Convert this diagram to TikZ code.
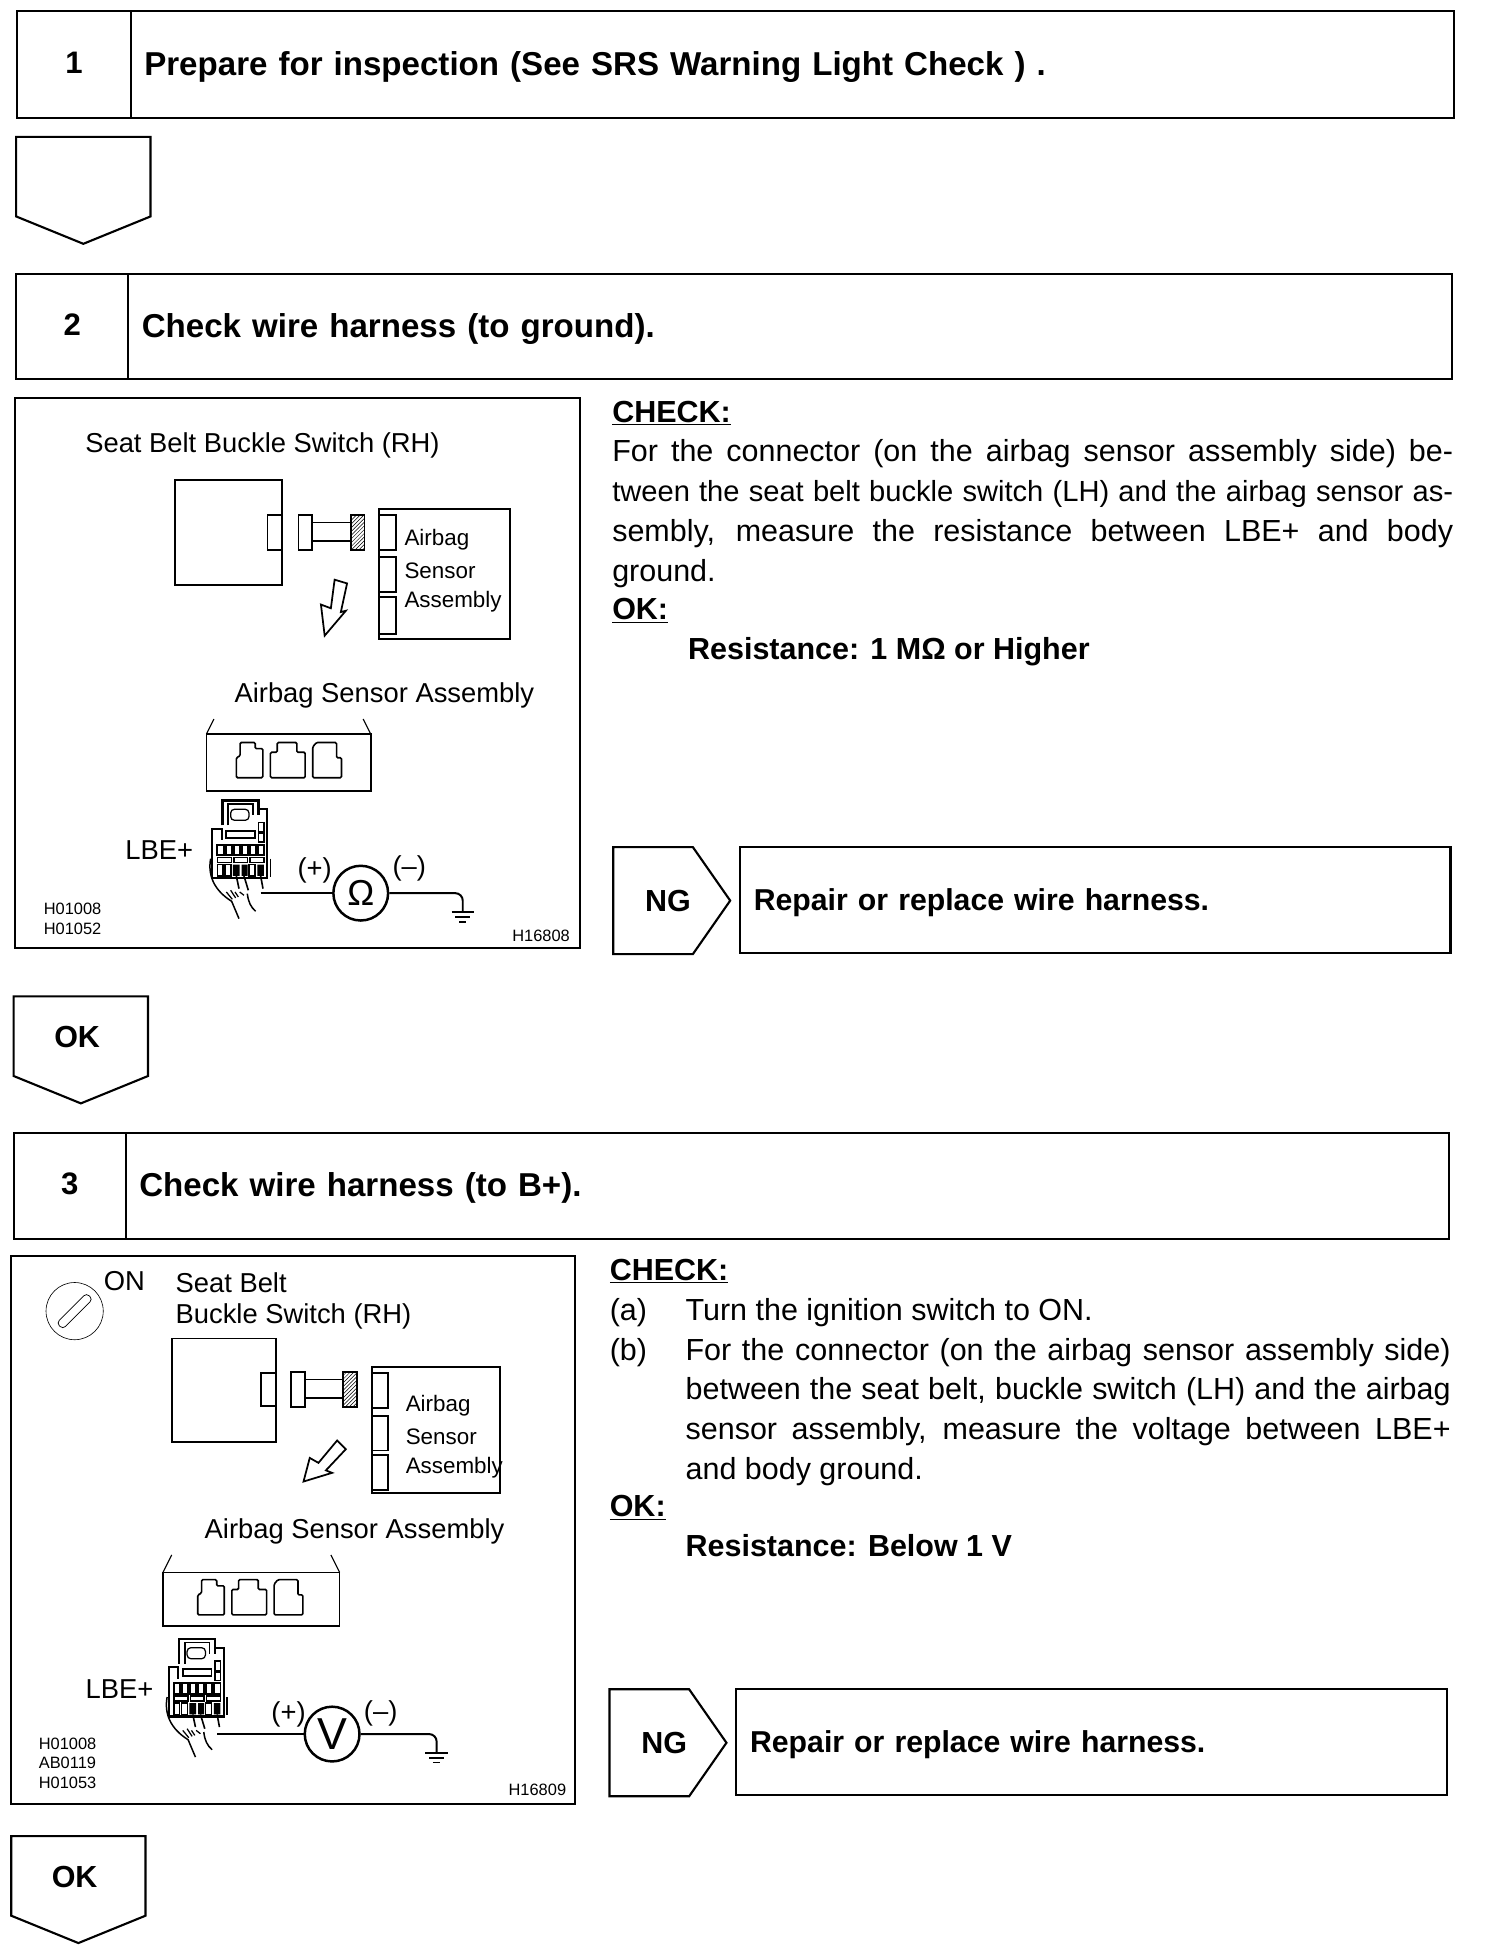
\documentclass[tikz,border=0pt]{standalone}
\usepackage{fontspec}
\setmainfont{Liberation Sans}
\usetikzlibrary{positioning, patterns}
\newcommand{\fline}[1]{\makebox[676pt][s]{#1}}
\newcommand{\gline}[1]{\makebox[615pt][s]{#1}}
\tikzset{
  numcell/.style={draw, line width=1.7pt, anchor=north west, outer sep=0pt, inner sep=0pt, minimum height=85pt, text height=18pt, text depth=4pt, font=\fontsize{25}{30}\bfseries\selectfont},
  titlecell/.style={numcell, align=left, inner xsep=11pt, text height=22pt, text depth=5pt, font=\fontsize{26.6}{30}\bfseries\selectfont},
  repaircell/.style={titlecell, font=\fontsize{24.3}{30}\bfseries\selectfont},
  bodytext/.style={anchor=north west, inner sep=0pt, align=left, font=\fontsize{24.5}{32}\selectfont},
  label/.style={inner sep=0pt, font=\fontsize{22}{25}\selectfont},
  small/.style={inner sep=0pt, font=\fontsize{18}{25}\selectfont},
  code/.style={inner sep=0pt, align=left, font=\fontsize{13.2}{15.5}\selectfont},
  panel/.style={draw, line width=1.7pt, anchor=north west, outer sep=0pt, inner sep=0pt},
  part/.style={draw, line width=1.5pt, anchor=north west, outer sep=0pt, inner sep=0pt},
  meter/.style={draw, circle, line width=2pt, minimum size=44pt, inner sep=0pt},
  wire/.style={line width=1.6pt},
  downflag/.pic={
    \draw[line width=1.7pt] (0,0) -- (108,0) -- (108,64) -- (54,86) -- (0,64) -- cycle;
    \node[font=\fontsize{24.5}{30}\bfseries\selectfont] (-text) at (51,33) {#1};
  },
  ngflag/.pic={
    \draw[line width=1.7pt] (0,0) -- (64,0) -- (94,43) -- (64,86) -- (0,86) -- cycle;
    \node[font=\fontsize{24.5}{30}\bfseries\selectfont] (-text) at (44,43) {NG};
  },
  harness/.pic={
    \draw[line width=1.5pt] (0,0) rectangle (11,28);
    \draw[line width=1.5pt] (11,6) -- (42,6) (11,21) -- (42,21);
    \draw[line width=1.5pt, pattern=north east lines] (42,0) rectangle (53,28);
  },
  sockets/.pic={
    \begin{scope}[x=.304pt, y=-.292pt, line width=1.3pt, rounded corners=1pt]
    \draw (0,100) -- (0,45) -- (10,40) -- (10,3) -- (50,3) -- (50,20) -- (70,20) -- (70,100) -- cycle;
    \draw (90,100) -- (90,30) -- (108,30) -- (108,3) -- (160,3) -- (160,30) -- (182,30) -- (182,100) -- cycle;
    \draw (202,100) -- (202,15) -- (212,3) -- (265,3) -- (265,45) -- (278,45) -- (278,100) -- cycle;
    \end{scope}
  },
  lbeplug/.pic={
    \begin{scope}[x=.268pt, y=-.268pt, shift={(-180,-60)}]
    \draw[line width=2pt] (220,140) -- (220,66) -- (328,66) -- (328,110);
    \draw[line width=1.4pt] (238,140) -- (238,76) -- (312,76) -- (312,110);
    \draw[line width=1pt, rounded corners=3pt] (245,125) -- (245,92) -- (300,92) -- (300,125) -- cycle;
    \draw[line width=1.8pt] (328,92) -- (355,92) -- (355,298) -- (190,298) -- (190,150) -- (218,150) -- (218,185);
    \draw[line width=1.5pt] (232,157) rectangle (318,178);
    \draw[line width=1.2pt] (328,132) rectangle (345,160) (328,165) rectangle (345,190);
    \draw[line width=1.5pt] (205,198) rectangle (224,230) (230,198) rectangle (248,230) (254,198) rectangle (272,230) (278,198) rectangle (296,230) (302,198) rectangle (320,230) (326,198) rectangle (345,230);
    \draw[line width=1.3pt] (205,237) rectangle (248,252) (255,237) rectangle (296,252) (303,237) rectangle (345,252);
    \draw[line width=1.3pt] (205,258) rectangle (222,292) (228,258) rectangle (246,292) (300,258) rectangle (318,292);
    \fill (252,258) rectangle (272,292) (278,258) rectangle (296,292) (325,258) rectangle (345,292);
    \draw[line width=1.3pt] (262,292) -- (270,330) (285,292) -- (298,335) (335,292) -- (342,330);
    \draw[line width=1.2pt] (185,240) .. controls (176,290) and (195,335) .. (248,368) -- (270,420);
    \draw[line width=1.2pt] (365,240) -- (365,295);
    \draw[line width=1.2pt] (295,345) .. controls (298,370) and (305,385) .. (320,398);
    \draw[line width=1pt] (232,340) -- (250,362) (245,335) -- (260,358) (258,340) -- (268,355) (272,340) -- (285,350);
    \coordinate (-out) at (335,332);
    \end{scope}
  },
  earth/.pic={
    \draw[line width=1.4pt] (-9,0) -- (9,0);
    \draw[line width=1.3pt] (-6,4) -- (6,4);
    \draw[line width=1.2pt] (-3,8) -- (3,8);
    \coordinate (-top) at (0,0);
  },
  x=1pt, y=-1pt
}
\begin{document}
\begin{tikzpicture}
\useasboundingbox (0,0) rectangle (1209,1567.6);

% step 1
\node[numcell, minimum width=91pt, minimum height=86pt] (numone) at (14,9) {1};
\node[titlecell, right=0pt of numone, text width=1042pt, minimum height=86pt] (titleone) {Prepare for inspection (See SRS Warning Light Check ) .};
\pic (flagone) at (13,110) {downflag={}};

% step 2
\node[numcell, minimum width=90pt] (numtwo) at (13,220) {2};
\node[titlecell, right=0pt of numtwo, text width=1042pt] (titletwo) {Check wire harness (to ground).};
\node[panel, minimum width=454pt, minimum height=442pt] (paneltwo) at (12,320) {};
\node[label] (switchtwo) at (211,358) {Seat Belt Buckle Switch (RH)};
\node[part, minimum width=86pt, minimum height=84pt] (bucktwo) at (141,386) {};
\node[part, minimum width=12pt, minimum height=28pt] (tabtwo) at (215,414) {};
\pic at (240,414) {harness};
\node[part, minimum width=105pt, minimum height=105pt] (asmtwo) at (305,409) {};
\node[part, minimum width=13pt, minimum height=28pt] (slotatwo) at (305,414) {};
\node[part, minimum width=13pt, minimum height=28pt] (slotbtwo) at (305,448) {};
\node[part, minimum width=13pt, minimum height=30pt] (slotctwo) at (305,480) {};
\node[small, anchor=west] (airbagtwo) at (325,434) {Airbag};
\node[small, anchor=west] (sensortwo) at (325,459) {Sensor};
\node[small, anchor=west] (assytwo) at (325,484) {Assembly};
\draw[line width=1.4pt] (261,511) -- (258,486) -- (266,489) -- (269,466) -- (279,469) -- (274,492) -- (278,491) -- cycle;
\node[label] (sensorlabeltwo) at (309,559) {Airbag Sensor Assembly};
\node[part, line width=1.3pt, minimum width=132pt, minimum height=46pt] (blocktwo) at (166,590) {};
\draw[line width=.9pt] (blocktwo.north west) -- (172,578) (blocktwo.north east) -- (292,578);
\pic at (190,596) {sockets};
\pic (plugtwo) at (168,642) {lbeplug};
\node[label] (lbetwo) at (128,683) {LBE+};
\node[meter, font=\fontsize{29}{32}\selectfont] (ohm) at (290,718) {Ω};
\pic (gndtwo) at (372,733) {earth};
\draw[wire] (plugtwo-out |- ohm) -- (ohm);
\draw[wire, rounded corners=6pt] (ohm) -- (ohm -| gndtwo-top) -- (gndtwo-top);
\node[label] (plustwo) at (253,700) {(+)};
\node[label] (minustwo) at (329,698) {(--)};
\node[code, anchor=north west] (codetwo) at (35,726) {H01008\\H01052};
\node[code] (figtwo) at (435,752) {H16808};

\node[bodytext] (checktwo) at (492,322) {\textbf{\underline{CHECK:}}\\
  \fline{For the connector (on the airbag sensor assembly side) be-}\\
  \fline{\fontsize{23.4}{32}\selectfont tween the seat belt buckle switch (LH) and the airbag sensor as-}\\
  \fline{sembly, measure the resistance between LBE+ and body}\\
  ground.\\[-1pt]
  \textbf{\underline{OK:}}\\
  \hspace*{61pt}\textbf{Resistance: 1 MΩ or Higher}};
\pic (ngtwo) at (493,681) {ngflag};
\node[repaircell, minimum width=571pt, text width=549pt] (repairtwo) at (595,681) {Repair or replace wire harness.};
\pic (flagtwo) at (11,801) {downflag={OK}};

% step 3
\node[numcell, minimum width=90pt] (numthree) at (11,911) {3};
\node[titlecell, right=0pt of numthree, text width=1042pt] (titlethree) {Check wire harness (to B+).};
\node[panel, minimum width=453pt, minimum height=440pt] (panelthree) at (9,1010) {};
\node[draw, circle, line width=.5pt, minimum size=46pt, inner sep=0pt] (keythree) at (60,1054) {};
\node[draw, rounded corners=3pt, line width=.6pt, rotate=45, minimum width=34pt, minimum height=7pt, inner sep=0pt] (slotthree) at (keythree) {};
\node[label] (onthree) at (100,1030) {ON};
\node[label, anchor=north west, align=left] (switchthree) at (141,1023) {Seat Belt\\Buckle Switch (RH)};
\node[part, minimum width=84pt, minimum height=83pt] (buckthree) at (138,1076) {};
\node[part, minimum width=12pt, minimum height=26pt] (tabthree) at (210,1104) {};
\pic at (234,1103) {harness};
\node[part, minimum width=103pt, minimum height=101pt] (asmthree) at (299,1099) {};
\node[part, minimum width=13pt, minimum height=28pt] (slotathree) at (299,1104) {};
\node[part, minimum width=13pt, minimum height=28pt] (slotbthree) at (299,1138) {};
\node[part, minimum width=13pt, minimum height=28pt] (slotcthree) at (299,1170) {};
\node[small, anchor=west] (airbagthree) at (326,1130) {Airbag};
\node[small, anchor=west] (sensorthree) at (326,1155) {Sensor};
\node[small, anchor=west] (assythree) at (326,1180) {Assembly};
\draw[line width=1.4pt] (244,1191) -- (249,1172) -- (256,1176) -- (271,1158) -- (278,1165) -- (262,1182) -- (267,1184) -- cycle;
\node[label] (sensorlabelthree) at (285,1231) {Airbag Sensor Assembly};
\node[part, line width=1.3pt, minimum width=142pt, minimum height=43pt] (blockthree) at (131,1264) {};
\draw[line width=.9pt] (blockthree.north west) -- (138,1250) (blockthree.north east) -- (266,1250);
\pic at (159,1269) {sockets};
\pic (plugthree) at (133,1316) {lbeplug};
\node[label] (lbethree) at (96,1358) {LBE+};
\node[meter, font=\fontsize{36}{36}\selectfont] (volt) at (267,1394) {V};
\pic (gndthree) at (351,1409) {earth};
\draw[wire] (plugthree-out |- volt) -- (volt);
\draw[wire, rounded corners=6pt] (volt) -- (volt -| gndthree-top) -- (gndthree-top);
\node[label] (plusthree) at (232,1378) {(+)};
\node[label] (minusthree) at (306,1377) {(--)};
\node[code, anchor=north west] (codethree) at (31,1397) {H01008\\AB0119\\H01053};
\node[code] (figthree) at (432,1439) {H16809};

\node[bodytext] (checkthree) at (490,1012) {\textbf{\underline{CHECK:}}\\
  (a)\hspace*{31pt}Turn the ignition switch to ON.\\
  (b)\hspace*{31pt}\gline{For the connector (on the airbag sensor assembly side)}\\
  \hspace*{61pt}\gline{between the seat belt, buckle switch (LH) and the airbag}\\
  \hspace*{61pt}\gline{sensor assembly, measure the voltage between LBE+}\\
  \hspace*{61pt}and body ground.\\[-2pt]
  \textbf{\underline{OK:}}\\
  \hspace*{61pt}\textbf{Resistance: Below 1 V}};
\pic (ngthree) at (490,1358) {ngflag};
\node[repaircell, minimum width=571pt, text width=549pt] (repairthree) at (592,1358) {Repair or replace wire harness.};
\pic (flagthree) at (9,1476) {downflag={OK}};
\end{tikzpicture}
\end{document}
